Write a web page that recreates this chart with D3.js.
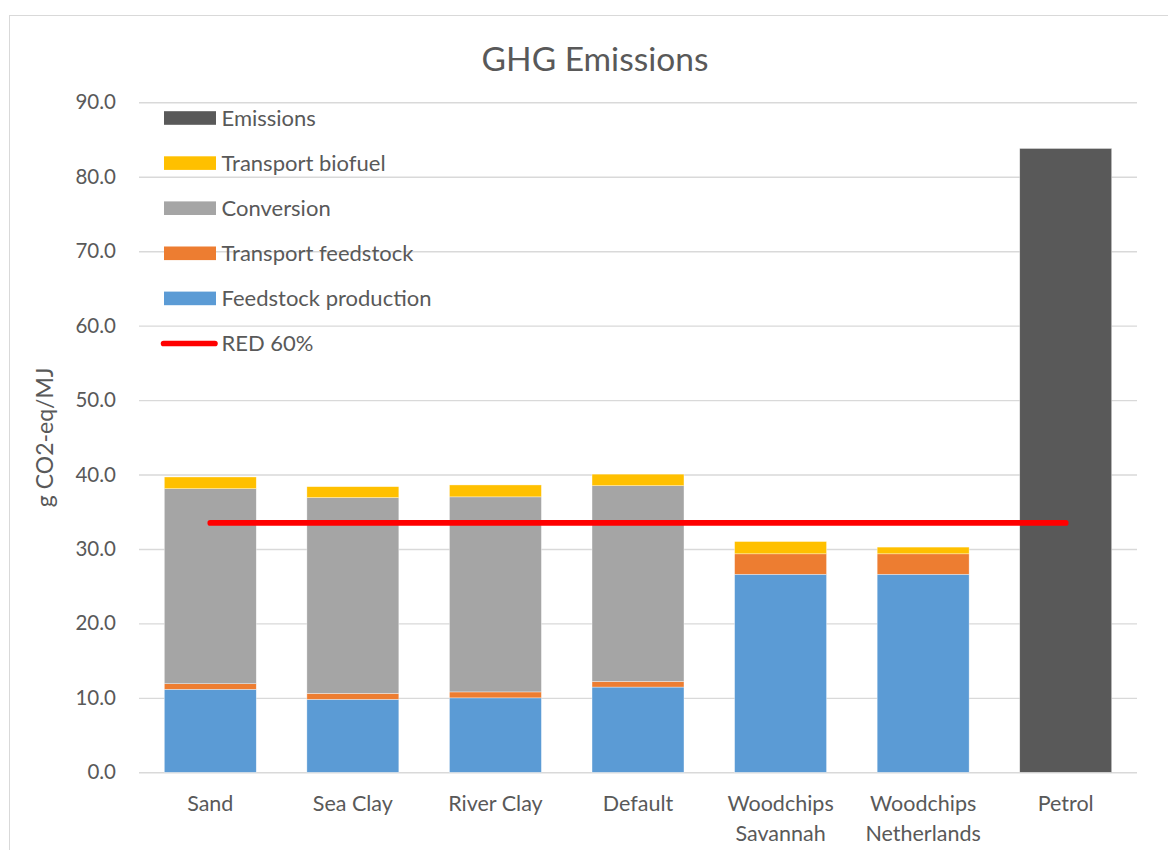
<!DOCTYPE html>
<html>
<head>
<meta charset="utf-8">
<script src="https://cdn.jsdelivr.net/npm/d3@7"></script>
<style>
  html, body { margin: 0; padding: 0; background: #fff; }
  svg { display: block; font-family: Lato, "Open Sans", sans-serif; }
</style>
</head>
<body>
<svg id="chart" width="1168" height="850"></svg>
<script>
// Categories (two-line labels split on "\n")
const categories = ["Sand", "Sea Clay", "River Clay", "Default", "Woodchips\nSavannah", "Woodchips\nNetherlands", "Petrol"];

// Emission components, g CO2-eq/MJ
const feedstockProduction = [11.15, 9.8, 10.0, 11.45, 26.6, 26.6, 0];
const transportFeedstock  = [0.75, 0.8, 0.8, 0.75, 2.75, 2.75, 0];
const conversion          = [26.2, 26.3, 26.2, 26.3, 0, 0, 0];
const transportBiofuel    = [1.57, 1.47, 1.6, 1.55, 1.65, 0.9, 0];
const emissions           = [0, 0, 0, 0, 0, 0, 83.8];

// RED 60% savings threshold
const red60 = [33.5, 33.5, 33.5, 33.5, 33.5, 33.5, 33.5];

const yTicks = [0, 10, 20, 30, 40, 50, 60, 70, 80, 90];

const seriesNames  = ["Feedstock production", "Transport feedstock", "Conversion", "Transport biofuel", "Emissions"];
const seriesValues = [feedstockProduction, transportFeedstock, conversion, transportBiofuel, emissions];
const seriesColors = ["#5b9bd5", "#ed7d31", "#a5a5a5", "#ffc000", "#595959"];
const legendOrder  = ["Emissions", "Transport biofuel", "Conversion", "Transport feedstock", "Feedstock production"];

const textColor = "#595959";
const gridColor = "#d9d9d9";

const svg = d3.select("#chart");

// Outer chart frame
svg.append("rect")
  .attr("x", 9.5).attr("y", 15.5)
  .attr("width", 1200).attr("height", 900)
  .attr("fill", "#fff").attr("stroke", gridColor).attr("stroke-width", 1);

const plot = { left: 139, right: 1137, top: 102.3, bottom: 772.3 };

const x = d3.scaleBand()
  .domain(categories)
  .range([plot.left, plot.right])
  .paddingInner(0.355)
  .paddingOuter(0.1775);

const y = d3.scaleLinear()
  .domain([0, 90])
  .range([plot.bottom, plot.top]);

// Gridlines and y tick labels
const yAxis = d3.axisLeft(y)
  .tickValues(yTicks)
  .tickFormat(d3.format(".1f"))
  .tickSize(-(plot.right - plot.left))
  .tickPadding(23);

const gy = svg.append("g")
  .attr("transform", `translate(${plot.left},0)`)
  .call(yAxis);
gy.select(".domain").remove();
gy.selectAll(".tick line").attr("stroke", gridColor).attr("stroke-width", 1.4);
gy.selectAll(".tick text")
  .attr("fill", textColor)
  .style("font-size", "20.5px")
  .style("font-family", "Lato");

// Stacked bars
const table = categories.map((c, i) => {
  const row = { category: c };
  seriesNames.forEach((s, k) => { row[s] = seriesValues[k][i]; });
  return row;
});
const stacked = d3.stack().keys(seriesNames)(table);
const color = d3.scaleOrdinal().domain(seriesNames).range(seriesColors);

svg.append("g").selectAll("g")
  .data(stacked)
  .join("g")
  .attr("fill", d => color(d.key))
  .selectAll("rect")
  .data(d => d.filter(p => p[1] - p[0] > 0))
  .join("rect")
  .attr("x", d => x(d.data.category))
  .attr("width", x.bandwidth())
  .attr("y", d => y(d[1]))
  .attr("height", d => y(d[0]) - y(d[1]))
  .attr("stroke", "#ffffff")
  .attr("stroke-opacity", 0.6)
  .attr("stroke-width", 0.6);

// RED 60% line
const redLine = d3.line()
  .x((d, i) => x(categories[i]) + x.bandwidth() / 2)
  .y(d => y(d));

svg.append("path")
  .datum(red60)
  .attr("d", redLine)
  .attr("fill", "none")
  .attr("stroke", "#ff0000")
  .attr("stroke-width", 5.7)
  .attr("stroke-linecap", "round");

// X category labels
const xl = svg.append("g");
categories.forEach(c => {
  const lines = c.split("\n");
  const t = xl.append("text")
    .attr("text-anchor", "middle")
    .attr("fill", textColor)
    .style("font-size", "21.5px");
  lines.forEach((ln, j) => {
    t.append("tspan")
      .attr("x", x(c) + x.bandwidth() / 2)
      .attr("y", 810.5 + j * 30)
      .text(ln);
  });
});

// Y axis title
svg.append("text")
  .attr("transform", `translate(53,${(plot.top + plot.bottom) / 2}) rotate(-90)`)
  .attr("text-anchor", "middle")
  .attr("fill", textColor)
  .style("font-size", "23px")
  .text("g CO2-eq/MJ");

// Chart title
svg.append("text")
  .attr("x", 595)
  .attr("y", 71)
  .attr("text-anchor", "middle")
  .attr("fill", textColor)
  .style("font-size", "33.5px")
  .text("GHG Emissions");

// Legend
const legend = svg.append("g");
const legendY0 = 118, legendStep = 45.1;
const legendFont = 22;
legendOrder.forEach((name, i) => {
  const cy = legendY0 + i * legendStep;
  legend.append("rect")
    .attr("x", 164).attr("y", cy - 6.8)
    .attr("width", 52).attr("height", 13.6)
    .attr("fill", color(name));
  legend.append("text")
    .attr("x", 221.5).attr("y", cy + 7.8)
    .attr("fill", textColor)
    .style("font-size", legendFont + "px")
    .text(name);
});
{
  const cy = legendY0 + legendOrder.length * legendStep;
  legend.append("line")
    .attr("x1", 163.6).attr("x2", 214.9)
    .attr("y1", cy).attr("y2", cy)
    .attr("stroke", "#ff0000")
    .attr("stroke-width", 5.7)
    .attr("stroke-linecap", "round");
  legend.append("text")
    .attr("x", 221.5).attr("y", cy + 7.8)
    .attr("fill", textColor)
    .style("font-size", legendFont + "px")
    .text("RED 60%");
}
</script>
</body>
</html>
